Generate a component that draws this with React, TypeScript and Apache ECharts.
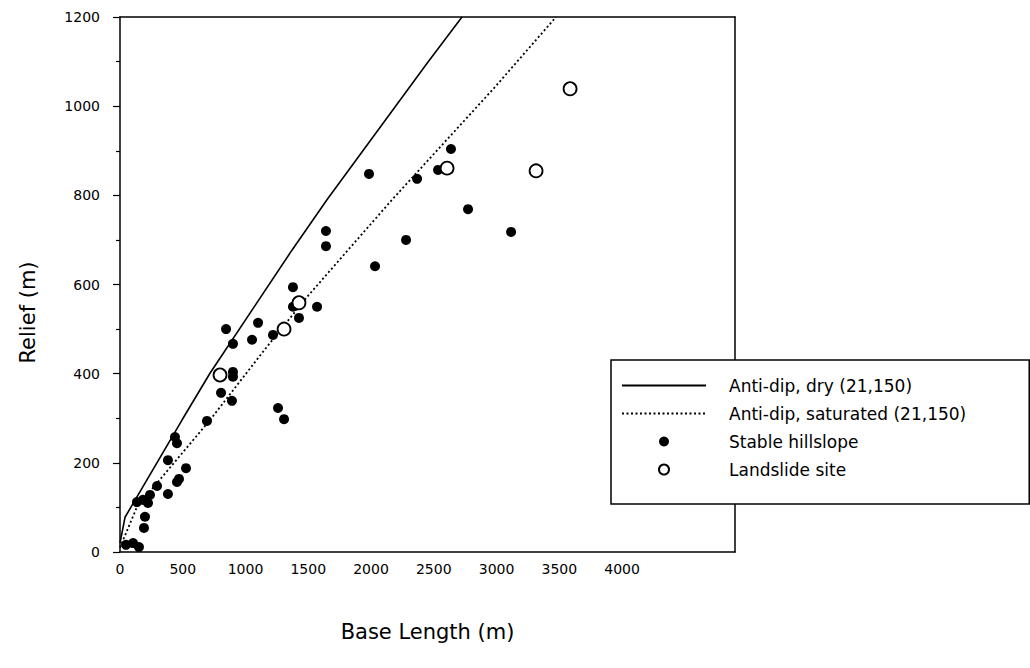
import React, { useEffect, useRef } from "react";
import * as echarts from "echarts";

// Axis setup
const X_MIN = 0;
const X_MAX = 4900;
const X_STEP = 500;
const X_LABEL_LAST = 4000;
const Y_MIN = 0;
const Y_MAX = 1200;
const Y_STEP = 200;

// Legend / series names
const SERIES_NAMES = [
  "Anti-dip, dry (21,150)",
  "Anti-dip, saturated (21,150)",
  "Stable hillslope",
  "Landslide site",
];

// Model curves [base length, relief]
const antiDipDry: [number, number][] = [
  [0, 20], [40, 78], [494, 296], [717, 401], [1370, 677],
  [1649, 790], [2454, 1099], [2725, 1200],
];
const antiDipSaturated: [number, number][] = [
  [0, 10], [135, 101], [717, 296], [1139, 449], [1490, 572],
  [2167, 790], [2988, 1043], [3474, 1200],
];

// Observations [base length, relief]
const stableHillslope: [number, number][] = [
  [1984, 848], [2367, 837], [2637, 904], [2534, 857], [2773, 769],
  [3116, 718], [2279, 700], [2032, 641], [1641, 720], [1641, 686],
  [1378, 594], [1378, 550], [1570, 550], [1426, 525], [1219, 487],
  [1100, 514], [1052, 476], [845, 500], [900, 467], [900, 404],
  [900, 393], [805, 357], [892, 339], [693, 294], [1259, 323],
  [1307, 298], [438, 258], [454, 244], [382, 206], [526, 188],
  [470, 164], [454, 157], [295, 148], [239, 128], [382, 130],
  [183, 117], [135, 112], [223, 110], [199, 79], [191, 54],
  [48, 16], [104, 20], [151, 11],
];
const landslideSite: [number, number][] = [
  [3586, 1039], [3315, 855], [2606, 861], [1426, 559], [1307, 500], [797, 397],
];

export default function App() {
  const ref = useRef<HTMLDivElement>(null);

  useEffect(() => {
    if (!ref.current) return;
    const chart = echarts.init(ref.current, null, { renderer: "svg" });
    const black = "#000";
    const clear = "rgba(0,0,0,0)";
    const font = "DejaVu Sans";
    chart.setOption({
      animation: false,
      backgroundColor: "#fff",
      textStyle: { fontFamily: font, color: black },
      grid: { left: 120, right: 295, top: 17, bottom: 116 },
      legend: {
        orient: "vertical",
        left: 611,
        top: 360,
        z: 10,
        padding: [17, 63, 26, 10],
        itemWidth: 84,
        itemHeight: 10,
        itemGap: 11,
        backgroundColor: "#fff",
        borderColor: black,
        borderWidth: 1.5,
        borderRadius: 0,
        textStyle: { fontFamily: font, fontSize: 17, color: black, padding: [0, 0, 0, 18] },
        data: SERIES_NAMES,
      },
      xAxis: [
        {
          type: "value",
          position: "bottom",
          min: X_MIN,
          max: X_MAX,
          interval: X_STEP,
          axisLine: { show: true, onZero: false, lineStyle: { color: black, width: 1.5 } },
          axisTick: { show: false },
          splitLine: { show: false },
          axisLabel: {
            color: black,
            fontFamily: font,
            fontSize: 14,
            margin: 10,
            showMaxLabel: false,
            formatter: (v: number) => (v > X_LABEL_LAST ? "" : String(v)),
          },
          name: "Base Length (m)",
          nameLocation: "middle",
          nameGap: 69,
          nameTextStyle: { fontFamily: font, fontSize: 21, color: black },
        },
        {
          type: "value",
          position: "top",
          min: X_MIN,
          max: X_MAX,
          axisLine: { show: true, onZero: false, lineStyle: { color: black, width: 1.5 } },
          axisTick: { show: false },
          axisLabel: { show: false },
          splitLine: { show: false },
        },
      ],
      yAxis: [
        {
          type: "value",
          position: "left",
          min: Y_MIN,
          max: Y_MAX,
          interval: Y_STEP,
          axisLine: { show: true, onZero: false, lineStyle: { color: black, width: 1.5 } },
          axisTick: { show: true, length: 7, lineStyle: { color: black, width: 1.2 } },
          minorTick: { show: true, splitNumber: 2, length: 4, lineStyle: { color: black, width: 1.2 } },
          splitLine: { show: false },
          minorSplitLine: { show: false },
          axisLabel: {
            color: black,
            fontFamily: font,
            fontSize: 14,
            margin: 20,
            formatter: (v: number) => String(v),
          },
          name: "Relief (m)",
          nameLocation: "middle",
          nameGap: 82,
          nameTextStyle: { fontFamily: font, fontSize: 21, color: black, padding: [0, 56, 0, 0] },
        },
        {
          type: "value",
          position: "right",
          min: Y_MIN,
          max: Y_MAX,
          axisLine: { show: true, onZero: false, lineStyle: { color: black, width: 1.5 } },
          axisTick: { show: false },
          axisLabel: { show: false },
          splitLine: { show: false },
        },
      ],
      series: [
        {
          name: SERIES_NAMES[0],
          type: "line",
          data: antiDipDry,
          symbol: "none",
          showSymbol: false,
          z: 2,
          itemStyle: { color: clear, borderColor: clear },
          lineStyle: { color: black, width: 1.6 },
        },
        {
          name: SERIES_NAMES[1],
          type: "line",
          data: antiDipSaturated,
          symbol: "none",
          showSymbol: false,
          z: 2,
          itemStyle: { color: clear, borderColor: clear },
          lineStyle: { color: black, width: 1.8, type: [2, 2.5] },
        },
        {
          name: SERIES_NAMES[2],
          type: "scatter",
          data: stableHillslope,
          symbol: "circle",
          symbolSize: 10,
          z: 3,
          itemStyle: { color: black, opacity: 1 },
        },
        {
          name: SERIES_NAMES[3],
          type: "scatter",
          data: landslideSite,
          symbol: "circle",
          symbolSize: 13,
          z: 4,
          itemStyle: { color: "#fff", borderColor: black, borderWidth: 1.8, opacity: 1 },
        },
      ],
    });
    return () => chart.dispose();
  }, []);

  return (
    <div
      ref={ref}
      style={{ position: "absolute", left: 0, top: 0, width: 1030, height: 668, background: "#fff" }}
    />
  );
}
